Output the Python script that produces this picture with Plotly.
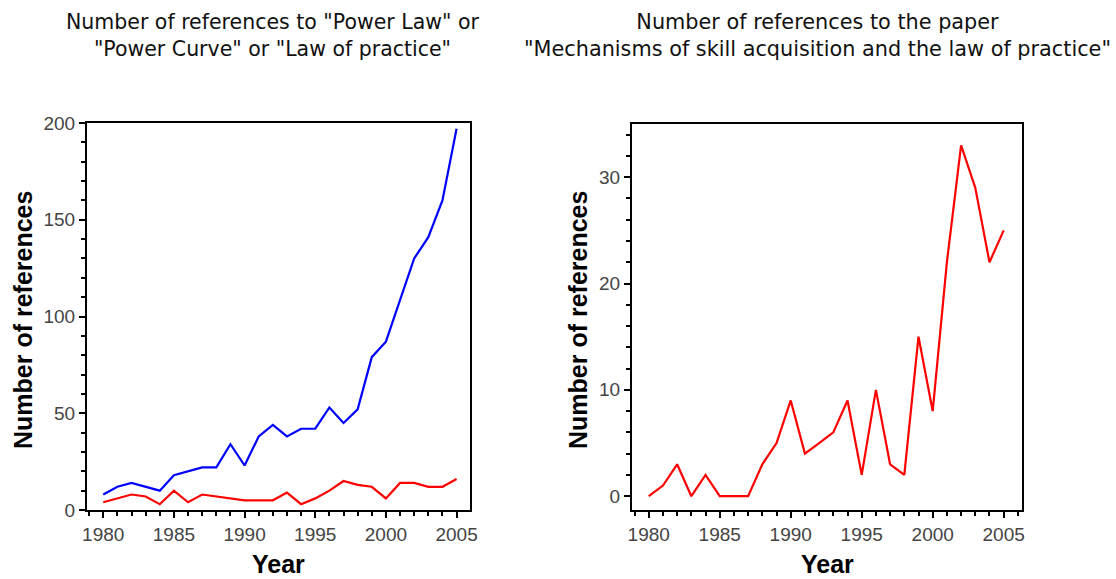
import plotly.graph_objects as go

years = list(range(1980, 2006))
power_law_refs = [8, 12, 14, 12, 10, 18, 20, 22, 22, 34, 23, 38, 44, 38, 42, 42, 53, 45, 52, 79,
                  87, 108, 130, 141, 160, 197]
left_red_refs = [4, 6, 8, 7, 3, 10, 4, 8, 7, 6, 5, 5, 5, 9, 3, 6, 10, 15, 13, 12,
                 6, 14, 14, 12, 12, 16]
paper_refs = [0, 1, 3, 0, 2, 0, 0, 0, 3, 5, 9, 4, 5, 6, 9, 2, 10, 3, 2, 15,
              8, 22, 33, 29, 22, 25]
x_ticks = [1980, 1985, 1990, 1995, 2000, 2005]

W, H = 1116, 579
FONT = "Liberation Sans, Arial, sans-serif"
TITLE_FONT = "DejaVu Sans, sans-serif"

def px_x(p):
    return p / W

def px_y(p):
    return 1 - p / H

fig = go.Figure()
fig.add_trace(go.Scatter(x=years, y=power_law_refs, mode="lines",
                         line=dict(color="#0000ff", width=2.2), xaxis="x", yaxis="y",
                         showlegend=False))
fig.add_trace(go.Scatter(x=years, y=left_red_refs, mode="lines",
                         line=dict(color="#ff0000", width=2.2), xaxis="x", yaxis="y",
                         showlegend=False))
fig.add_trace(go.Scatter(x=years, y=paper_refs, mode="lines",
                         line=dict(color="#ff0000", width=2.2), xaxis="x2", yaxis="y2",
                         showlegend=False))

common = dict(showline=True, linecolor="black", linewidth=2, mirror=True,
              ticks="outside", ticklen=6, tickwidth=2, tickcolor="black",
              showgrid=False, zeroline=False, automargin=False,
              tickfont=dict(family=FONT, size=19, color="#444"))
minor_style = dict(ticks="outside", ticklen=4, tickwidth=2, tickcolor="black")

fig.update_layout(
    width=W, height=H,
    margin=dict(l=0, r=0, t=0, b=0),
    paper_bgcolor="white", plot_bgcolor="white",
    xaxis=dict(domain=[px_x(87), px_x(470)], anchor="y", range=[1978.85, 2005.95],
               tickvals=x_ticks, minor=dict(dtick=1, **minor_style), **common),
    yaxis=dict(domain=[px_y(510), px_y(123)], anchor="x", range=[0, 200],
               tickvals=[0, 50, 100, 150, 200], minor=dict(dtick=10, **minor_style), **common),
    xaxis2=dict(domain=[px_x(632), px_x(1022)], anchor="y2", range=[1978.82, 2006.29],
                tickvals=x_ticks, minor=dict(dtick=1, **minor_style), **common),
    yaxis2=dict(domain=[px_y(510), px_y(124)], anchor="x2", range=[-1.3, 35],
                tickvals=[0, 10, 20, 30], minor=dict(dtick=2, **minor_style), **common),
)

axis_title_font = dict(family=FONT, size=25, color="black")
for xc in (278, 827):
    fig.add_annotation(x=px_x(xc), y=px_y(564), xref="paper", yref="paper",
                       xanchor="center", yanchor="middle", showarrow=False,
                       text="<b>Year</b>", font=axis_title_font)
for xc in (23, 578):
    fig.add_annotation(x=px_x(xc), y=px_y(320), xref="paper", yref="paper",
                       xanchor="center", yanchor="middle", showarrow=False, textangle=-90,
                       text="<b>Number of references</b>", font=axis_title_font)

fig.add_annotation(x=px_x(272), y=px_y(8), xref="paper", yref="paper", xanchor="center",
                   yanchor="top", showarrow=False, align="center",
                   text='Number of references to "Power Law" or<br>"Power Curve" or "Law of practice"',
                   font=dict(family=TITLE_FONT, size=20.5, color="#111"))
fig.add_annotation(x=px_x(817), y=px_y(8), xref="paper", yref="paper", xanchor="center",
                   yanchor="top", showarrow=False, align="center",
                   text='Number of references to the paper<br>"Mechanisms of skill acquisition and the law of practice"',
                   font=dict(family=TITLE_FONT, size=20.8, color="#111"))

fig.write_html("out.html", config={"displayModeBar": False},
               post_script="document.body.style.margin='0';document.body.style.overflow='hidden';")
